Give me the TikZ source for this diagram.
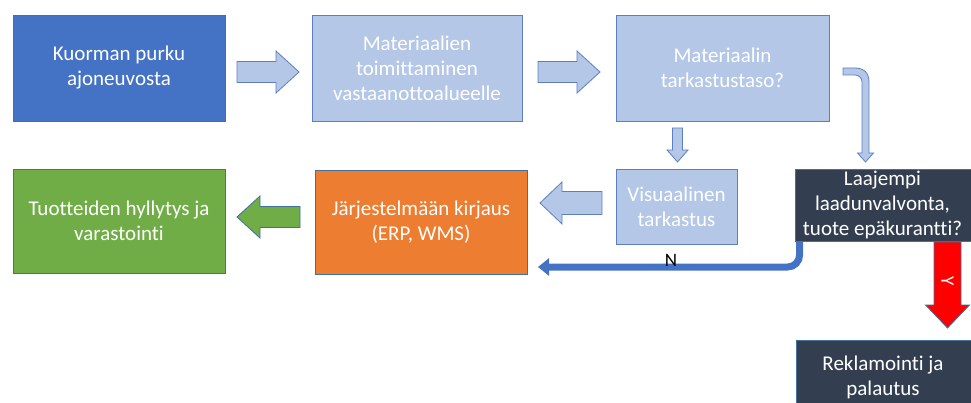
\documentclass[tikz,border=0pt]{standalone}
\usepackage{fontspec}
\setmainfont{Carlito}[Ligatures=NoCommon]
\usetikzlibrary{arrows.meta}
\definecolor{accblue}{HTML}{4472C4}
\definecolor{lightblue}{HTML}{B4C7E7}
\definecolor{edgeline}{HTML}{41719C}
\definecolor{lightedge}{HTML}{5B7FC0}
\definecolor{accgreen}{HTML}{70AD47}
\definecolor{accorange}{HTML}{ED7D31}
\definecolor{darkslate}{HTML}{333F50}
\definecolor{accred}{HTML}{FF0000}
\tikzset{
  box/.style={rectangle, inner sep=0pt, align=center, text=white,
    draw=edgeline, line width=0.8pt,
    font=\fontsize{21}{25}\selectfont},
  lightbox/.style={box, fill=lightblue, draw=lightedge},
  blockarrow/.style={fill=lightblue, draw=lightedge, line width=0.8pt, line join=miter},
  flowline/.style={accblue, line width=7pt, rounded corners=12pt,
    -{Triangle[length=11pt,width=17pt]}}
}
\begin{document}
\begin{tikzpicture}[x=1pt,y=-1pt]
\useasboundingbox (0,0) rectangle (971,403);
\clip (0,0) rectangle (971,403);

% boxes
\node[box, fill=accblue, minimum width=212pt, minimum height=106pt] (b1) at (119,68)
  {Kuorman purku\\ajoneuvosta};
\node[lightbox, minimum width=210pt, minimum height=106pt] (b2) at (417,68)
  {Materiaalien\\toimittaminen\\vastaanottoalueelle};
\node[lightbox, minimum width=213pt, minimum height=106pt] (b3) at (722.5,68)
  {Materiaalin\\tarkastustaso?};
\node[lightbox, minimum width=121pt, minimum height=75pt] (b4) at (676.5,206.5)
  {Visuaalinen\\tarkastus};
\node[box, fill=darkslate, minimum width=185pt, minimum height=72pt] (b5) at (887.5,205)
  {\hspace*{-10pt}Laajempi\\\hspace*{-10pt}laadunvalvonta,\\\hspace*{-10pt}tuote epäkurantti?};
\node[box, fill=accorange, minimum width=212pt, minimum height=104pt] (b6) at (421,222)
  {Järjestelmään kirjaus\\(ERP, WMS)};
\node[box, fill=accgreen, minimum width=212pt, minimum height=104pt] (b7) at (119,221)
  {Tuotteiden hyllytys ja\\varastointi};
\node[box, fill=darkslate, minimum width=184pt, minimum height=75pt] (b8) at (888,377.5)
  {\hspace*{-10pt}Reklamointi ja\\\hspace*{-10pt}palautus};

% block arrows
\draw[blockarrow] (237,61.5) -- (276,61.5) -- (276,51) -- (299,72) -- (276,93) -- (276,82.5) -- (237,82.5) -- cycle;
\draw[blockarrow] (538,61.5) -- (577,61.5) -- (577,51) -- (600,72) -- (577,93) -- (577,82.5) -- (538,82.5) -- cycle;
\draw[blockarrow] (602,191.5) -- (562,191.5) -- (562,182) -- (540,203) -- (562,224) -- (562,214.5) -- (602,214.5) -- cycle;
\draw[blockarrow, fill=accgreen, draw=edgeline] (300,206.5) -- (260,206.5) -- (260,196) -- (237,217) -- (260,238) -- (260,227.5) -- (300,227.5) -- cycle;
\draw[blockarrow] (672.5,128) -- (682.5,128) -- (682.5,150) -- (688,150) -- (677.5,162) -- (667,150) -- (672.5,150) -- cycle;
\draw[blockarrow, fill=accred, draw=edgeline] (934,242) -- (961,242) -- (961,305) -- (969.5,305) -- (947.5,328) -- (925.5,305) -- (934,305) -- cycle;
\node[text=white, rotate=-90, font=\fontsize{19}{19}\selectfont, inner sep=0pt] (ylab) at (947.5,281) {Y};

% bent arrow from b3 to b5
\draw[blockarrow] (843,68) -- (855,68) .. controls (864,68) and (869,73) .. (869,82)
  -- (869,153) -- (873.5,153) -- (865.5,162) -- (857.5,153) -- (862,153) -- (862,82)
  .. controls (862,78) and (859,75) .. (855,75) -- (843,75) -- cycle;

% N connector
\coordinate (nstart) at ([xshift=5pt]b5.south west);
\coordinate (nend) at (538,267);
\draw[flowline] (nstart) |- (nend);
\node[font=\fontsize{19}{19}\selectfont, inner sep=0pt] (nlab) at (671,260) {N};
\end{tikzpicture}
\end{document}
